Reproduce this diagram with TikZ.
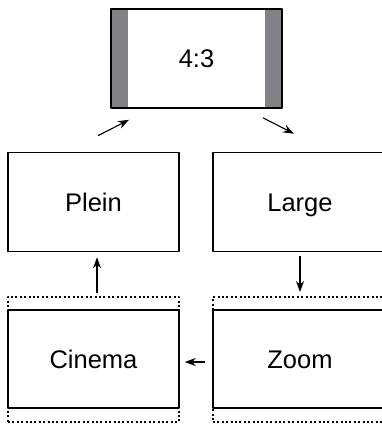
\documentclass[tikz,border=0pt]{standalone}
\usepackage{fontspec}
\setmainfont{Liberation Sans}
\usetikzlibrary{arrows.meta}
\definecolor{bargray}{RGB}{128,130,133}

\begin{document}
\begin{tikzpicture}[x=1pt, y=-1pt, line join=round,
  box/.style={draw, line width=1.6pt, minimum width=171pt, minimum height=99pt,
    inner sep=0pt, text height=18pt, text depth=0pt, font=\fontsize{25.5}{30}\selectfont},
  frame/.style={draw, line width=2pt, dash pattern=on 2pt off 2.4pt,
    minimum width=171pt, minimum height=125pt, inner sep=0pt},
  arr/.style={-{Stealth[length=11pt,width=8pt]}, line width=1.1pt}]
\useasboundingbox (0,0) rectangle (382,424);
\node[frame] (cinemaframe) at (93.5,359.5) {};
\node[frame, minimum width=174pt] (zoomframe) at (300,359.5) {};
\node[box, fill=white, path picture={
    \fill[bargray] (path picture bounding box.north west) rectangle ([xshift=17pt]path picture bounding box.south west);
    \fill[bargray] (path picture bounding box.north east) rectangle ([xshift=-17pt]path picture bounding box.south east);
  }] (ratio) at (196.5,58.5) {4:3};
\node[box] (plein) at (93.5,202) {Plein};
\node[box, minimum width=174pt] (large) at (300,202) {Large};
\node[box, fill=white, minimum height=98pt] (cinema) at (93.5,359) {Cinema};
\node[box, fill=white, minimum height=98pt, minimum width=174pt] (zoom) at (300,359) {Zoom};
\draw[arr] ([shift={(4.5,-16)}]plein.north) -- ([shift={(-67.5,11)}]ratio.south);
\draw[arr] ([shift={(66.5,9)}]ratio.south) -- ([shift={(-6,-18)}]large.north);
\draw[arr] (large.south) -- (zoomframe.north) [shorten <=3.5pt, shorten >=4pt];
\draw[arr, shorten <=3pt, shorten >=5pt] ([xshift=3.5pt]cinemaframe.north) -- ([xshift=3.5pt]plein.south);
\draw[arr, shorten <=7pt, shorten >=5pt] ([yshift=-3pt]zoom.west) -- ([yshift=-3pt]cinema.east);
\end{tikzpicture}
\end{document}
